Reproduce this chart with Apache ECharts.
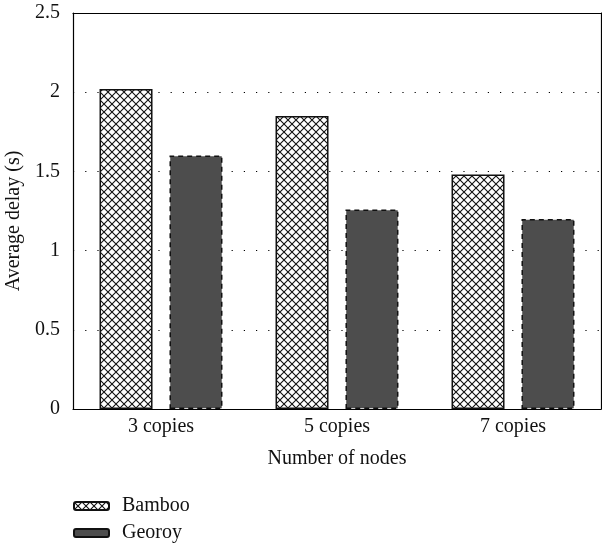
<!DOCTYPE html>
<html><head><meta charset="utf-8">
<script src="https://cdn.jsdelivr.net/npm/echarts@6/dist/echarts.min.js"></script>
<style>html,body{margin:0;padding:0;background:#fff}#c{width:602px;height:548px}</style>
</head><body><div id="c"></div>
<script>
const categories = ['3 copies', '5 copies', '7 copies'];
const bambooValues = [2.02, 1.85, 1.48];
const georoyValues = [1.60, 1.26, 1.20];
const yTicks = [0, 0.5, 1, 1.5, 2, 2.5];

const pat = document.createElement('canvas');
pat.width = 8; pat.height = 8;
const g = pat.getContext('2d');
g.fillStyle = '#fff'; g.fillRect(0,0,8,8);
g.strokeStyle = '#111'; g.lineWidth = 1.1;
g.beginPath();
g.moveTo(0,0); g.lineTo(8,8);
g.moveTo(0,8); g.lineTo(8,0);
g.stroke();

const font = '"Liberation Serif", "DejaVu Serif", serif';
const fs = 20;
const chart = echarts.init(document.getElementById('c'), null, {renderer:'canvas'});
chart.setOption({
  animation: false,
  textStyle: {fontFamily: font},
  grid: {left: 73, right: 1, top: 13, bottom: 139, containLabel: false, outerBoundsMode: 'none'},
  legend: {
    orient: 'vertical', left: 73, top: 496, padding: 0, itemWidth: 35, itemHeight: 8, itemGap: 7,
    textStyle: {fontFamily: font, fontSize: fs, color: '#111', padding: [0,0,0,8]},
    data: ['Bamboo', 'Georoy']
  },
  xAxis: [{
    type: 'category', data: categories,
    name: 'Number of nodes', nameLocation: 'middle', nameGap: 40,
    nameTextStyle: {fontFamily: font, fontSize: fs, color: '#111'},
    axisLine: {onZero: false, lineStyle: {color: '#000', width: 1.2}},
    axisTick: {show: false},
    axisLabel: {fontFamily: font, fontSize: fs, color: '#111', margin: 8}
  }, {
    type: 'category', data: categories, position: 'top',
    axisLine: {show: true, onZero: false, lineStyle: {color: '#000', width: 1.2}},
    axisTick: {show: false}, axisLabel: {show: false}, splitLine: {show: false}
  }],
  yAxis: [{
    type: 'value', min: yTicks[0], max: yTicks[yTicks.length-1], interval: 0.5,
    name: 'Average delay (s)', nameLocation: 'middle', nameGap: 48,
    nameTextStyle: {fontFamily: font, fontSize: fs, color: '#111', padding: [0, 20, 0, 0]},
    axisLine: {show: true, onZero: false, lineStyle: {color: '#000', width: 1.2}},
    axisTick: {show: false},
    axisLabel: {fontFamily: font, fontSize: fs, color: '#111', margin: 13},
    splitLine: {show: true, lineStyle: {color: '#000', type: [1.2, 11], width: 1}}
  }, {
    type: 'value', min: yTicks[0], max: yTicks[yTicks.length-1], interval: 0.5, position: 'right',
    axisLine: {show: true, onZero: false, lineStyle: {color: '#000', width: 1.2}},
    axisTick: {show: false}, axisLabel: {show: false}, splitLine: {show: false}
  }],
  series: [
    {name: 'Bamboo', type: 'bar', data: bambooValues, barWidth: 53, barGap: '32%',
     itemStyle: {color: {image: pat, repeat: 'repeat'}, borderColor: '#111', borderWidth: 1.5}},
    {name: 'Georoy', type: 'bar', data: georoyValues, barWidth: 53,
     itemStyle: {color: '#4d4d4d', borderColor: '#111', borderWidth: 1.5, borderType: [5, 4]}}
  ]
});
</script></body></html>
